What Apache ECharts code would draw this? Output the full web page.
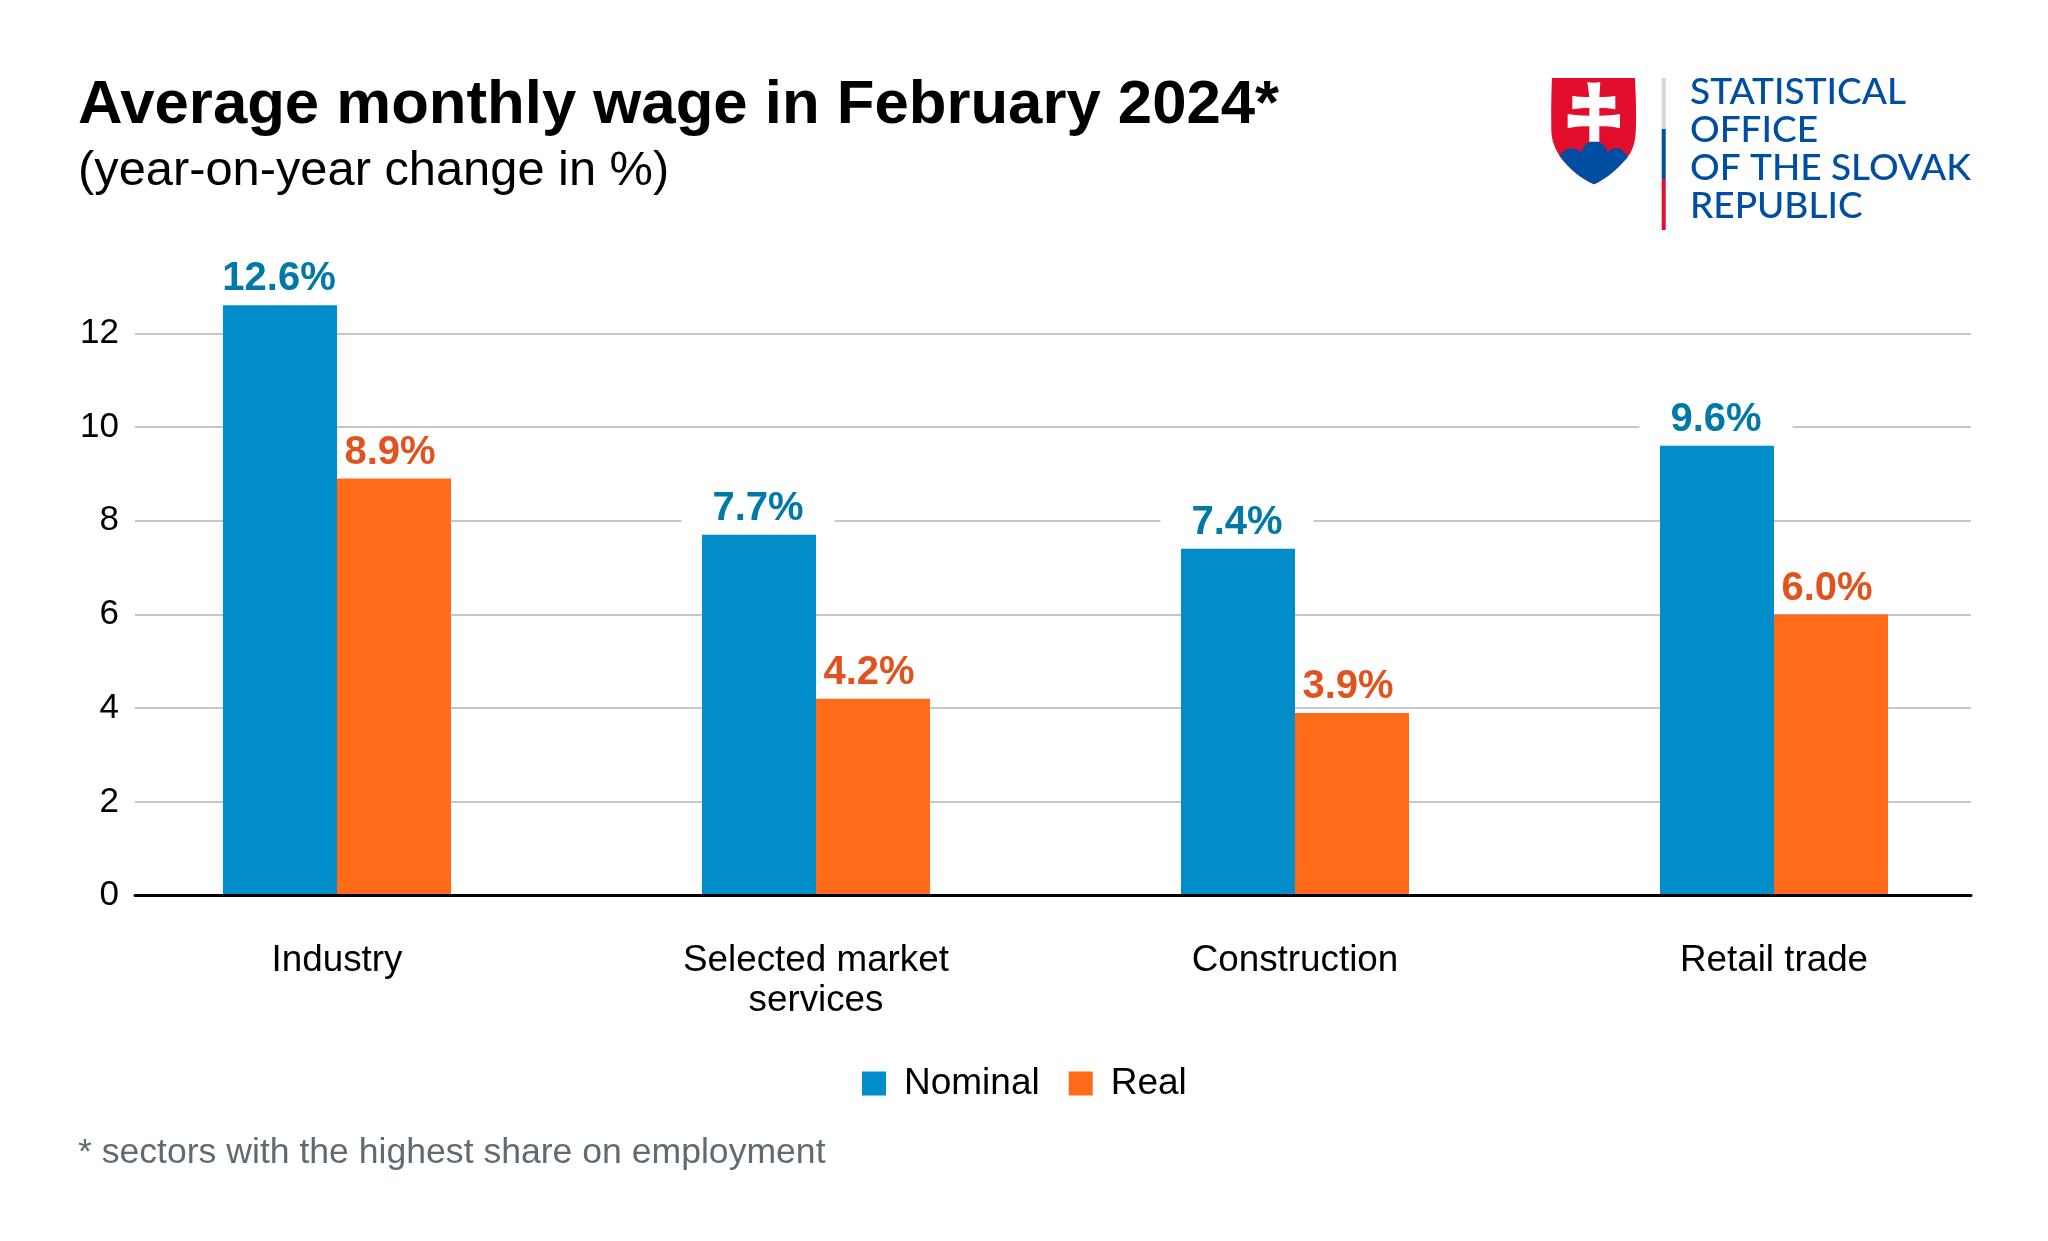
<!DOCTYPE html>
<html>
<head>
<meta charset="utf-8">
<style>
html, body { margin: 0; padding: 0; background: #fff; }
#chart { width: 2048px; height: 1241px; }
</style>
<script src="https://cdn.jsdelivr.net/npm/echarts@6/dist/echarts.min.js"></script>
</head>
<body>
<div id="chart"></div>
<script>
var categories = ['Industry', 'Selected market\nservices', 'Construction', 'Retail trade'];
var nominal = [12.6, 7.7, 7.4, 9.6];
var real = [8.9, 4.2, 3.9, 6.0];
var yTicks = { min: 0, max: 12, interval: 2 };
var logoLines = ['STATISTICAL', 'OFFICE', 'OF THE SLOVAK', 'REPUBLIC'];

var FONT = '"Liberation Sans", Arial, sans-serif';
var LOGO_FONT = 'Lato, sans-serif';
var BLUE = '#008dc9', ORANGE = '#ff6b18';
var LOGO_BLUE = '#004ea2', LOGO_RED = '#e30d2c';

// zero line sits at y=895.7, one unit is 46.87px
var unit = 46.87, zeroY = 895.7;

function percent(p) {
    return p.value.toFixed(1) + '%';
}

// the graphic component has no plain path type, so register the logo shapes
echarts.graphic.registerShape('logoShield', echarts.graphic.extendPath(
    'M156 84 L405 84 C408 150 410 220 406 260 C402 290 392 310 382 322 C350 360 320 385 282 403 C244 385 210 360 180 320 C165 295 155 275 154 240 C153 180 154 130 156 84 Z', {}));
echarts.graphic.registerShape('logoHills', echarts.graphic.extendPath(
    'M180 318 C190 295 225 285 243 308 C250 285 265 274 283 274 C300 274 318 285 323 308 C340 285 370 290 383 322 C350 360 320 385 282 403 C244 385 210 360 180 318 Z', {}));
echarts.graphic.registerShape('logoCross', echarts.graphic.extendPath(
    'M262 96 C275 99 288 99 301 96 L298 141 C315 141 330 140 346 137 L346 178 C330 175 315 174 298 174 L298 197 C320 197 340 196 360 192 L360 235 C340 230 320 229 298 229 L298 275 L268 275 L268 229 C246 229 224 230 203 235 L203 192 C224 196 246 197 268 197 L268 174 C250 174 234 175 217 178 L217 137 C234 140 250 141 268 141 Z', {}));

var logoGraphic = [
    // shield, drawn in a 3x space and scaled back down
    { type: 'logoShield', x: 1500, y: 50, scaleX: 1 / 3, scaleY: 1 / 3, style: { fill: LOGO_RED } },
    { type: 'logoHills', x: 1500, y: 50, scaleX: 1 / 3, scaleY: 1 / 3, style: { fill: LOGO_BLUE } },
    { type: 'logoCross', x: 1500, y: 50, scaleX: 1 / 3, scaleY: 1 / 3, style: { fill: '#fff' } },
    { type: 'rect', shape: { x: 1661.7, y: 78, width: 4, height: 51 }, style: { fill: '#d3d6d8' } },
    { type: 'rect', shape: { x: 1661.7, y: 129, width: 4, height: 50 }, style: { fill: LOGO_BLUE } },
    { type: 'rect', shape: { x: 1661.7, y: 179, width: 4, height: 51 }, style: { fill: LOGO_RED } }
];
logoLines.forEach(function (line, i) {
    logoGraphic.push({
        type: 'text', x: 1690, y: 74 + i * 37.7,
        style: { text: line, fill: LOGO_BLUE, font: '500 37px ' + LOGO_FONT }
    });
});

var chart = echarts.init(document.getElementById('chart'), null, { renderer: 'canvas' });
chart.setOption({
    backgroundColor: '#fff',
    animation: false,
    title: [
        { text: 'Average monthly wage in February 2024*', left: 78, top: 74.5, padding: 0,
          textStyle: { fontFamily: FONT, fontWeight: 'bold', fontSize: 61.7, color: '#000' } },
        { text: '(year-on-year change in %)', left: 78, top: 147, padding: 0,
          textStyle: { fontFamily: FONT, fontWeight: 'normal', fontSize: 48.8, color: '#000' } },
        { text: '* sectors with the highest share on employment', left: 78, top: 1135, padding: 0,
          textStyle: { fontFamily: FONT, fontWeight: 'normal', fontSize: 35.6, color: '#5f6b73' } }
    ],
    legend: {
        left: 862, top: 1065, padding: 0,
        itemWidth: 24, itemHeight: 24, itemGap: 29,
        icon: 'rect',
        data: ['Nominal', 'Real'],
        textStyle: { fontFamily: FONT, fontSize: 37, color: '#000', padding: [0, 0, 0, 13] }
    },
    // grid 0 holds the gridlines and y labels, grid 1 the wider bar layout
    grid: [
        { left: 135, width: 1836, top: zeroY - yTicks.max * unit, height: yTicks.max * unit },
        { left: 97.5, width: 1916, top: zeroY - 14 * unit, height: 14 * unit }
    ],
    xAxis: [
        { type: 'category', gridIndex: 0, data: categories, z: 5,
          axisLine: { lineStyle: { color: '#000', width: 3 } },
          axisTick: { show: false }, axisLabel: { show: false }, splitLine: { show: false } },
        { type: 'category', gridIndex: 1, data: categories,
          axisLine: { show: false }, axisTick: { show: false },
          axisLabel: { interval: 0, margin: 45.5, fontFamily: FONT, fontSize: 36.8, lineHeight: 40, color: '#000' } }
    ],
    yAxis: [
        { type: 'value', gridIndex: 0, min: yTicks.min, max: yTicks.max, interval: yTicks.interval,
          axisLine: { show: false }, axisTick: { show: false },
          axisLabel: { margin: 16, fontFamily: FONT, fontSize: 35, color: '#000' },
          splitLine: { lineStyle: { color: '#b5b5b5', width: 1.5 } } },
        { type: 'value', gridIndex: 1, min: 0, max: 14, show: false, splitLine: { show: false } }
    ],
    series: [
        { name: 'Nominal', type: 'bar', xAxisIndex: 1, yAxisIndex: 1, data: nominal,
          barWidth: 114, barGap: 0, itemStyle: { color: BLUE },
          label: { show: true, position: 'top', distance: 6, offset: [-1, 0], formatter: percent,
                   fontFamily: FONT, fontWeight: 'bold', fontSize: 40, color: '#0078a8',
                   backgroundColor: '#fff', padding: [0, 31, 0, 31] } },
        { name: 'Real', type: 'bar', xAxisIndex: 1, yAxisIndex: 1, data: real,
          barWidth: 114, barGap: 0, itemStyle: { color: ORANGE },
          label: { show: true, position: 'top', distance: 6, offset: [-4, 0], formatter: percent,
                   fontFamily: FONT, fontWeight: 'bold', fontSize: 40, color: '#e0531f' } }
    ],
    graphic: logoGraphic
});
</script>
</body>
</html>
